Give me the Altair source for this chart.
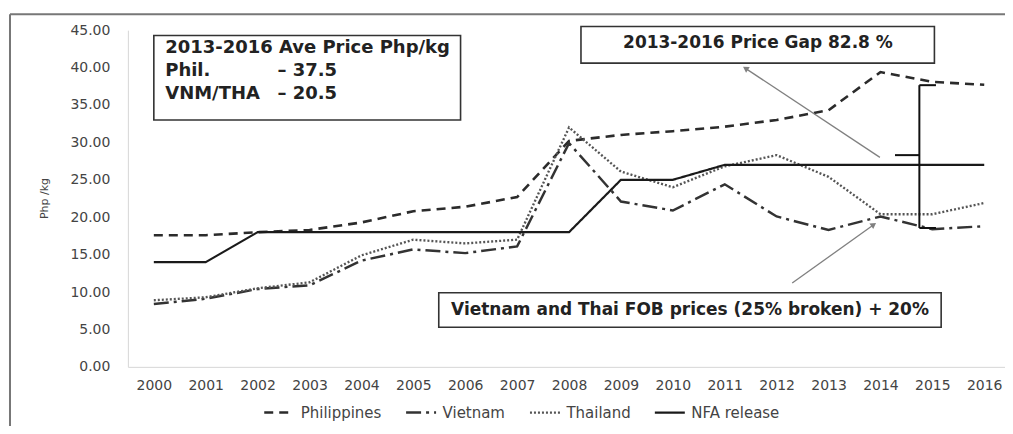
import altair as alt
import pandas as pd

# ---------------- data ----------------
years = list(range(2000, 2017))
series_names = ["Philippines", "Vietnam", "Thailand", "NFA release"]
philippines = [17.6, 17.6, 18.0, 18.3, 19.3, 20.8, 21.4, 22.7, 30.2, 31.0, 31.5, 32.1, 33.0, 34.3, 39.4, 38.1, 37.7]
vietnam = [8.4, 9.1, 10.4, 10.9, 14.2, 15.7, 15.2, 16.1, 29.9, 22.1, 20.9, 24.4, 20.1, 18.3, 20.1, 18.4, 18.8]
thailand = [8.9, 9.3, 10.5, 11.3, 14.9, 17.0, 16.5, 17.0, 32.0, 26.1, 24.0, 26.8, 28.3, 25.4, 20.4, 20.4, 21.9]
nfa_release = [14.0, 14.0, 18.0, 18.0, 18.0, 18.0, 18.0, 18.0, 18.0, 25.0, 25.0, 27.0, 27.0, 27.0, 27.0, 27.0, 27.0]
y_ticks = [0, 5, 10, 15, 20, 25, 30, 35, 40, 45]

rows = []
for name, vals in zip(series_names, [philippines, vietnam, thailand, nfa_release]):
    for yr, v in zip(years, vals):
        rows.append({"year": yr, "price": v, "series": name})
df = pd.DataFrame(rows)

# annotation boxes (data coordinates)
boxes = pd.DataFrame({
    "year": [2000.0, 2008.23, 2005.49],
    "year2": [2005.91, 2015.04, 2015.17],
    "price": [44.3, 45.5, 9.9],
    "price2": [33.0, 40.6, 5.3],
})
box_left_text = pd.DataFrame({
    "year": [2000.22, 2000.22, 2000.22],
    "price": [42.6, 39.5, 36.5],
    "label": ["2013-2016 Ave Price Php/kg", "Phil.", "VNM/THA"],
})
box_right_text = pd.DataFrame({
    "year": [2003.53, 2003.53],
    "price": [39.5, 36.5],
    "label": ["\u2013  37.5", "\u2013  20.5"],
})
box_center_text = pd.DataFrame({
    "year": [2011.64, 2010.33],
    "price": [43.3, 7.6],
    "label": ["2013-2016 Price Gap 82.8 %", "Vietnam and Thai FOB prices (25% broken) + 20%"],
})
arrows = pd.DataFrame({
    "year": [2013.99, 2012.30],
    "price": [28.0, 11.2],
    "year2": [2011.40, 2013.87],
    "price2": [39.9, 19.0],
})
arrow_heads = pd.DataFrame({
    "year": [2011.40, 2013.87],
    "price": [39.9, 19.0],
    "ang": [303, 55],
})
brace = pd.DataFrame({
    "year": [2014.75, 2014.75, 2014.75, 2014.28],
    "year2": [2014.75, 2015.07, 2015.07, 2014.75],
    "price": [37.65, 37.65, 18.56, 28.3],
    "price2": [18.56, 37.65, 18.56, 28.3],
})

FONT = "DejaVu Sans"

x_scale = alt.Scale(domain=[1999.5, 2016.4], nice=False, zero=False)
y_scale = alt.Scale(domain=[0, 45], nice=False, zero=True)

x_enc = alt.X("year:Q", scale=x_scale,
              axis=alt.Axis(values=years, format="d", title=None, grid=False, ticks=False,
                            labelFont=FONT, labelFontSize=14, labelColor="#444",
                            labelPadding=12, domainColor="#d6d6d6", labelFlush=False))
y_enc = alt.Y("price:Q", scale=y_scale,
              axis=alt.Axis(values=y_ticks, format=".2f", title="Php /kg", grid=False, ticks=False,
                            labelFont=FONT, labelFontSize=14, labelColor="#444",
                            labelPadding=18, domainColor="#d6d6d6",
                            titleFont=FONT, titleFontSize=11, titleFontWeight="normal",
                            titleColor="#444", titleX=-83, titleY=168, titleAngle=270,
                            titleAlign="center", titleBaseline="middle"))

legend = alt.Legend(orient="none", legendX=135, legendY=366, direction="horizontal",
                    symbolType="stroke", symbolSize=900, labelFont=FONT, labelFontSize=15,
                    labelColor="#444", columnPadding=19, labelOffset=5, title=None)

color_enc = alt.Color("series:N", scale=alt.Scale(domain=series_names,
                      range=["#2b2b2b", "#333333", "#555555", "#1a1a1a"]), legend=legend)
dash_enc = alt.StrokeDash("series:N", scale=alt.Scale(domain=series_names,
                          range=[[9, 6], [15, 5, 3, 5], [2, 2], [1, 0]]), legend=legend)
width_enc = alt.StrokeWidth("series:N", scale=alt.Scale(domain=series_names,
                            range=[2.6, 2.2, 1.8, 2.6]), legend=legend)

lines = alt.Chart(df).mark_line().encode(
    x=x_enc, y=y_enc, color=color_enc, strokeDash=dash_enc, strokeWidth=width_enc)

box_layer = alt.Chart(boxes).mark_rect(fill="white", stroke="#333", strokeWidth=1.6).encode(
    x=x_enc, x2="year2:Q", y=y_enc, y2="price2:Q")

txt_style = dict(font=FONT, fontSize=18, fontWeight="bold", color="#222", baseline="middle")
left_txt = alt.Chart(box_left_text).mark_text(align="left", **txt_style).encode(
    x=x_enc, y=y_enc, text="label:N")
right_txt = alt.Chart(box_right_text).mark_text(align="right", **txt_style).encode(
    x=x_enc, y=y_enc, text="label:N")
center_style = dict(txt_style, fontSize=17)
center_txt = alt.Chart(box_center_text).mark_text(align="center", **center_style).encode(
    x=x_enc, y=y_enc, text="label:N")

arrow_lines = alt.Chart(arrows).mark_rule(color="#808080", strokeWidth=1.3).encode(
    x=x_enc, y=y_enc, x2="year2:Q", y2="price2:Q")
arrow_tips = alt.Chart(arrow_heads).mark_point(shape="triangle-up", filled=True, size=45,
                                               color="#808080", opacity=1).encode(
    x=x_enc, y=y_enc, angle=alt.Angle("ang:Q", scale=None))

brace_layer = alt.Chart(brace).mark_rule(color="#111", strokeWidth=2).encode(
    x=x_enc, y=y_enc, x2="year2:Q", y2="price2:Q")

frame_df = pd.DataFrame({"k": [0]})
frame_left = alt.Chart(frame_df).mark_rule(color="#777", strokeWidth=2).encode(
    x=alt.value(-118), y=alt.value(-16), y2=alt.value(440))
frame_top = alt.Chart(frame_df).mark_rule(color="#777", strokeWidth=2).encode(
    x=alt.value(-118), x2=alt.value(900), y=alt.value(-16))

chart = alt.layer(
    frame_left, frame_top,
    lines,
    box_layer, left_txt, right_txt, center_txt,
    arrow_lines, arrow_tips, brace_layer,
).properties(
    width=878, height=337,
    autosize="none",
    padding={"left": 120, "top": 22, "right": 0, "bottom": 59},
    background="white",
).configure_view(stroke=None)

chart.save("out.html", embed_options={"renderer": "svg", "actions": False})
